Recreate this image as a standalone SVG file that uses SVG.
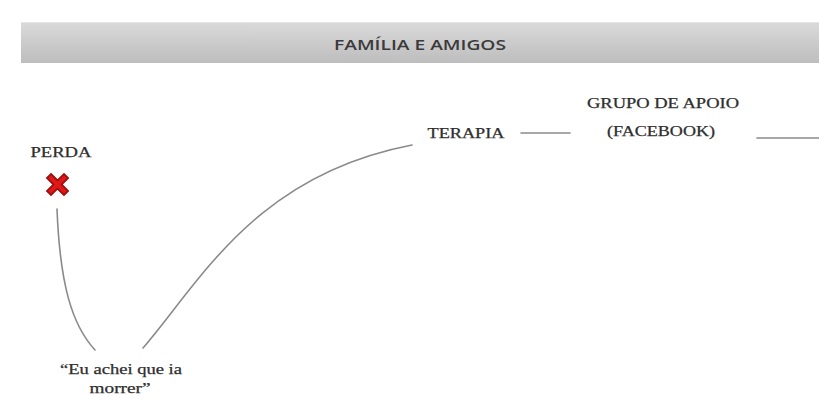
<svg xmlns="http://www.w3.org/2000/svg" width="819" height="401" viewBox="0 0 819 401">
<defs>
<linearGradient id="hdr" x1="0" y1="0" x2="0" y2="1">
<stop offset="0" stop-color="#dadada"/>
<stop offset="1" stop-color="#bdbdbd"/>
</linearGradient>
</defs>
<style>
.lbl{font-family:"Liberation Serif",serif;font-size:14px;fill:#2e2e2e;stroke:#2e2e2e;stroke-width:0.25;text-anchor:middle}
.conn{fill:none;stroke:#8a8a8a;stroke-width:1.6;stroke-linecap:round}
</style>
<rect width="819" height="401" fill="#ffffff"/>
<g id="header">
<rect x="21" y="22" width="798" height="41" fill="url(#hdr)"/>
<line x1="21" y1="22.5" x2="819" y2="22.5" stroke="#e6e6e6" stroke-width="1"/>
<text x="420" y="50" font-family="'Open Sans','Liberation Sans',sans-serif" font-size="15" font-weight="600" fill="#3a3a3a" text-anchor="middle" textLength="172" lengthAdjust="spacingAndGlyphs">FAMÍLIA E AMIGOS</text>
</g>
<g id="connectors">
<path class="conn" d="M57,209 C60,285 72,325 95,350"/>
<path class="conn" d="M143,348 C200,282 255,175 412,145"/>
<line class="conn" x1="521" y1="133" x2="570" y2="133"/>
<line class="conn" x1="757" y1="138" x2="819" y2="138"/>
</g>
<g id="perda">
<text class="lbl" x="61" y="157" textLength="61" lengthAdjust="spacingAndGlyphs">PERDA</text>
<g stroke-linecap="square">
<path d="M51,178 L64,191 M64,178 L51,191" stroke="#9a1010" stroke-width="7.5"/>
<path d="M51,178 L64,191 M64,178 L51,191" stroke="#e01818" stroke-width="4"/>
</g>
</g>
<g id="quote">
<text class="lbl" x="121" y="374" font-size="13" textLength="122" lengthAdjust="spacingAndGlyphs">“Eu achei que ia</text>
<text class="lbl" x="120" y="393" font-size="13" textLength="61" lengthAdjust="spacingAndGlyphs">morrer”</text>
</g>
<g id="terapia">
<text class="lbl" x="466" y="138" textLength="77" lengthAdjust="spacingAndGlyphs">TERAPIA</text>
</g>
<g id="grupo">
<text class="lbl" x="663" y="108" textLength="152" lengthAdjust="spacingAndGlyphs">GRUPO DE APOIO</text>
<text class="lbl" x="661" y="136" textLength="108" lengthAdjust="spacingAndGlyphs">(FACEBOOK)</text>
</g>
</svg>
